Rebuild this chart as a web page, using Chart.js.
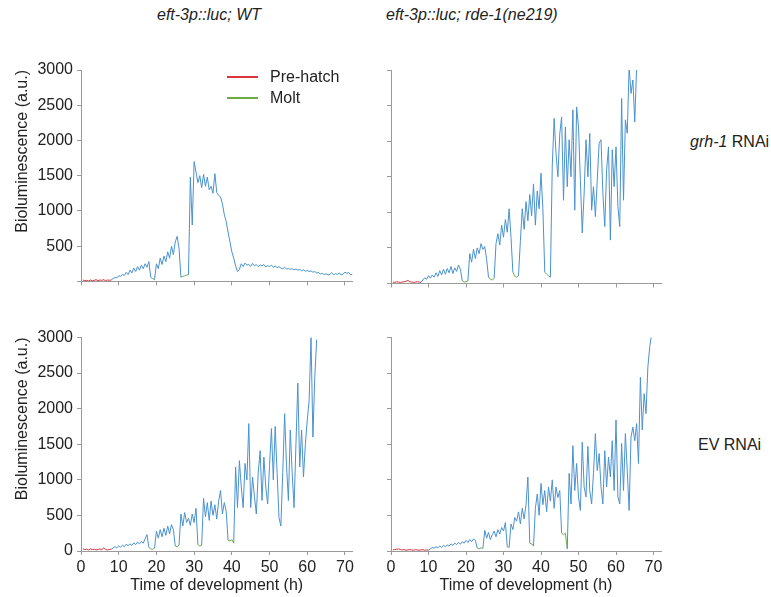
<!DOCTYPE html>
<html>
<head>
<meta charset="utf-8">
<script src="https://cdn.jsdelivr.net/npm/chart.js@4.4.1/dist/chart.umd.min.js"></script>
<style>
    body { margin: 0; background: #fff; }
    #page { position: relative; width: 771px; height: 597px; overflow: hidden; font-family: "Liberation Sans", Arial, sans-serif; color: #222; }
    canvas { position: absolute; }
    .txt { position: absolute; white-space: nowrap; font-size: 16px; line-height: 20px; }
    .ttl { position: absolute; white-space: nowrap; font-size: 16px; line-height: 20px; font-style: italic; }
    .key { position: absolute; height: 2px; width: 31px; }
</style>
</head>
<body>
<div id="page">
    <div class="ttl" style="left:157px; top:5px;">eft-3p::luc; WT</div>
    <div class="ttl" style="left:386px; top:5px;">eft-3p::luc; rde-1(ne219)</div>
    <div class="txt" style="left:690px; top:132px;"><i>grh-1</i> RNAi</div>
    <div class="txt" style="left:698px; top:435px;">EV RNAi</div>

    <canvas id="wt_grh" width="380" height="255" style="left:0px; top:40px;"></canvas>
    <canvas id="rde_grh" width="290" height="255" style="left:380px; top:40px;"></canvas>
    <canvas id="wt_ev" width="380" height="287" style="left:0px; top:310px;"></canvas>
    <canvas id="rde_ev" width="290" height="287" style="left:380px; top:310px;"></canvas>

    <div class="key" style="left:227px; top:76px; background:#d9363e;"></div>
    <div class="txt" style="left:270px; top:67px;">Pre-hatch</div>
    <div class="key" style="left:227px; top:97px; background:#6eab46;"></div>
    <div class="txt" style="left:270px; top:88px;">Molt</div>
</div>
<script>
// luminometer reads every 0.5 h, first read at 0.5 h
const first_hour = 0.5;
const step_hours = 0.5;

const x_tick_values = [0, 10, 20, 30, 40, 50, 60, 70];
const y_tick_values = [0, 500, 1000, 1500, 2000, 2500, 3000];

const col_prehatch = "#d9363e";
const col_molt = "#6eab46";
const col_larva = "#4a92cf";

// eft-3p::luc; WT  -  grh-1 RNAi
const wt_grh_values = [
    20, 10, 15, 5, 20, 10, 15, 25, 10, 20, 15, 25, 10, 20, 15, 20,
    40, 55, 50, 80, 70, 100, 85, 130, 95, 160, 120, 190, 140, 210, 160, 230, 180, 250, 200, 280,
    55, 40, 25,
    250, 180, 330, 240, 360, 280, 420, 330, 500, 380, 560, 640, 470,
    60, 70, 80, 90, 95,
    1480, 800, 1700, 1550, 1400, 1500, 1330, 1520, 1350, 1480, 1300, 1350, 1250, 1530, 1260, 1220,
    1200, 1100, 950, 850, 700, 560, 420, 330, 220, 140, 170, 250, 210, 260, 230, 240, 215, 255,
    220, 240, 210, 235, 220, 240, 205, 225, 210, 230, 200, 215, 195, 210, 190, 180, 200, 175,
    185, 170, 180, 165, 175, 160, 170, 150, 165, 145, 155, 140, 150, 130, 140, 120, 125, 105,
    115, 95, 110, 90, 100, 125, 95, 110, 100, 120, 90, 105, 130, 115, 125, 95, 100
];
const wt_grh_hatch = 8;
const wt_grh_molts = [[18.5, 19.5], [26.5, 28.5]];

// eft-3p::luc; rde-1(ne219)  -  grh-1 RNAi
const rde_grh_values = [
    20, 15, 25, 20, 15, 20, 25, 30, 45, 25, 20, 15, 20, 25, 20, 15,
    50, 80, 60, 110, 75, 120, 90, 150, 100, 180, 120, 200, 130, 210, 150, 240, 140, 220, 170, 260, 200,
    40, 20, 25, 35,
    420, 300, 480, 350, 500, 420, 560, 480, 520, 340,
    90, 60, 50, 70,
    560, 700, 540, 820, 650, 900, 720, 1050, 650,
    160, 100, 90, 110,
    600, 1050, 760, 1150, 880, 1250, 950, 1400, 820, 1300, 1050, 1550, 1050,
    160, 130, 110, 90,
    1650, 2320, 1830, 1500, 2100, 2340, 1170, 2200, 1360, 2020, 1500, 2440, 1030, 2480, 2200, 1450,
    710, 1270, 2020, 1500, 2110, 1030, 1360, 940, 1450, 1970, 2020, 1270, 800, 1600, 1920, 610,
    1880, 1360, 1920, 1080, 800, 2600, 1170, 2300, 2110, 3050, 2670, 2860, 2270, 3050
];
const rde_grh_hatch = 8;
const rde_grh_molts = [[19, 20.5], [26, 27.5], [32.5, 34], [41, 42.5]];

// eft-3p::luc; WT  -  EV RNAi
const wt_ev_values = [
    30, 20, 25, 15, 30, 20, 25, 15, 20, 30, 15, 45, 20, 15, 20, 25,
    40, 60, 45, 70, 55, 80, 60, 95, 75, 100, 80, 115, 90, 125, 100, 135, 110, 170, 230,
    50, 30, 25, 40,
    280, 180, 300, 200, 320, 220, 350, 240, 370, 300,
    70, 60, 80,
    520, 350, 540, 400, 460, 360, 520, 400, 600,
    90, 70, 80,
    740, 480, 680, 430, 700, 500, 650, 450, 700, 850, 520, 680, 560,
    150, 140, 160, 110,
    1180, 610, 1270, 900, 610, 1230, 1000, 1790, 610, 1040, 760, 520, 1100, 1410, 710, 1320,
    900, 660, 1200, 1720, 1000, 1750, 1100, 470, 350, 1100, 1930, 1200, 710, 1700, 1100, 610,
    1500, 2360, 1180, 1700, 1040, 1500, 1840, 2120, 3000, 1600, 2450, 2970
];
const wt_ev_hatch = 8;
const wt_ev_molts = [[18, 19.5], [25, 26], [31, 32], [39, 40.5]];

// eft-3p::luc; rde-1(ne219)  -  EV RNAi
const rde_ev_values = [
    15, 20, 25, 30, 20, 15, 20, 10, 15, 20, 15, 10, 20, 15, 10, 15, 20, 10, 15, 10,
    30, 50, 40, 60, 45, 70, 50, 80, 60, 85, 70, 100, 80, 110, 90, 120, 95, 130, 110, 150, 120, 160, 130, 170, 150,
    40, 30, 45, 35,
    290, 180, 260, 160, 230, 280, 200, 300, 240, 330, 280, 400,
    60, 50,
    380, 300, 470, 420, 550, 380, 600, 450, 650, 1040,
    110, 100, 70,
    600, 800, 500, 950, 650, 850, 550, 900, 700, 1000, 600, 900, 750, 850,
    250, 230, 250, 30,
    1090, 660, 1480, 850, 1230, 760, 570, 1530, 900, 760, 1470, 850, 660, 1100, 1650, 1130,
    1370, 900, 660, 1410, 900, 1320, 1040, 1550, 850, 1840, 760, 660, 1510, 850, 1650, 1130,
    570, 1600, 1740, 1550, 1790, 1230, 2440, 1700, 2210, 1930, 2590, 2870, 3050
];
const rde_ev_hatch = 10;
const rde_ev_molts = [[23, 24.5], [31, 31.5], [37, 38], [45.5, 47]];

function seg_color(ctx, hatch_end, molts) {
    var x = ctx.p0.parsed.x;
    if (x < hatch_end) return col_prehatch;
    for (const m of molts) {
        if (x >= m[0] && x < m[1]) return col_molt;
    }
    return col_larva;
}

function init_panel(container_name, values, hatch_end, molts, layout) {
    var ctx = document.getElementById(container_name).getContext("2d");
    var data = values.map((v, i) => ({ x: first_hour + i * step_hours, y: v }));
    var tick_font = { family: '"Liberation Sans", Arial, sans-serif', size: 16 };

    const config = {
        type: "line",
        data: {
            datasets: [{
                data: data,
                borderWidth: 1,
                pointRadius: 0,
                borderColor: col_larva,
                segment: {
                    borderColor: (c) => seg_color(c, hatch_end, molts)
                }
            }]
        },
        options: {
            responsive: false,
            animation: false,
            plugins: { legend: { display: false }, tooltip: { enabled: false } },
            layout: {
                padding: { left: 0, top: layout.top, right: layout.right, bottom: 0 }
            },
            scales: {
                x: {
                    type: "linear",
                    min: 0,
                    max: 72,
                    afterBuildTicks: (s) => { s.ticks = x_tick_values.map(v => ({ value: v })); },
                    afterFit: (s) => { s.height = layout.x_height; },
                    border: { color: "#9a9a9a", width: 1 },
                    grid: { drawOnChartArea: false, drawTicks: true, tickLength: 4, color: "#9a9a9a" },
                    ticks: { display: layout.x_labels, padding: 3, color: "#222", font: tick_font, maxRotation: 0 },
                    title: {
                        display: layout.x_labels,
                        text: "Time of development (h)",
                        color: "#222",
                        font: tick_font,
                        padding: { top: 0, bottom: 2 }
                    }
                },
                y: {
                    min: 0,
                    max: 3000,
                    afterBuildTicks: (s) => { s.ticks = y_tick_values.map(v => ({ value: v })); },
                    afterFit: (s) => { s.width = layout.y_width; },
                    border: { color: "#9a9a9a", width: 1 },
                    grid: { drawOnChartArea: false, drawTicks: true, tickLength: 4, color: "#9a9a9a" },
                    ticks: {
                        display: layout.y_labels,
                        padding: 4,
                        color: "#222",
                        font: tick_font,
                        callback: (v) => (v === 0 && !layout.x_labels) ? "" : v
                    },
                    title: {
                        display: layout.y_labels,
                        text: "Bioluminescence (a.u.)",
                        align: "end",
                        color: "#222",
                        font: tick_font,
                        padding: { top: 13, bottom: 0 }
                    }
                }
            }
        }
    };

    var myChart = new Chart(ctx, config);
    return myChart;
}

init_panel("wt_grh", wt_grh_values, wt_grh_hatch, wt_grh_molts,
    { top: 30, right: 27.5, x_height: 11.5, y_width: 81, x_labels: false, y_labels: true });
init_panel("rde_grh", rde_grh_values, rde_grh_hatch, rde_grh_molts,
    { top: 30, right: 9, x_height: 11.5, y_width: 11, x_labels: false, y_labels: false });
init_panel("wt_ev", wt_ev_values, wt_ev_hatch, wt_ev_molts,
    { top: 27.5, right: 27.5, x_height: 46, y_width: 81, x_labels: true, y_labels: true });
init_panel("rde_ev", rde_ev_values, rde_ev_hatch, rde_ev_molts,
    { top: 27.5, right: 9, x_height: 46, y_width: 11, x_labels: true, y_labels: false });
</script>
</body>
</html>
